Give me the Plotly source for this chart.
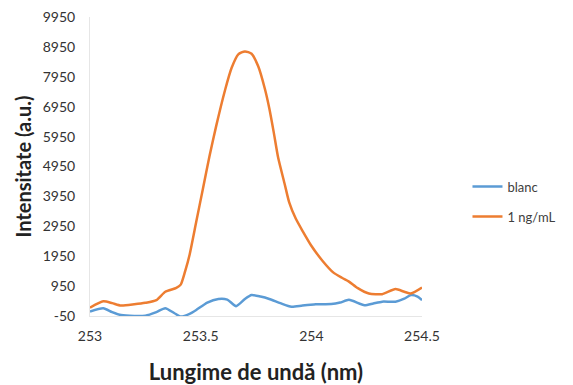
import plotly.graph_objects as go

x_orange = [253.00, 253.06, 253.10, 253.14, 253.20, 253.25, 253.30, 253.34, 253.39, 253.41,
            253.43, 253.45, 253.48, 253.51, 253.54, 253.57, 253.61, 253.64, 253.67, 253.70,
            253.73, 253.76, 253.79, 253.81, 253.83, 253.85, 253.88, 253.90, 253.93, 253.96,
            254.00, 254.05, 254.10, 254.14, 254.17, 254.21, 254.26, 254.32, 254.38, 254.42,
            254.45, 254.50]
y_orange = [230, 440, 380, 300, 340, 390, 480, 760, 890, 1000,
            1450, 2000, 3100, 4200, 5300, 6300, 7500, 8250, 8700, 8800,
            8720, 8300, 7550, 6900, 6100, 5250, 4350, 3750, 3200, 2800,
            2300, 1800, 1400, 1220, 1100, 880, 700, 680, 850, 760,
            700, 900]

x_blue = [253.00, 253.06, 253.10, 253.14, 253.20, 253.25, 253.30, 253.34, 253.38, 253.41,
          253.45, 253.48, 253.53, 253.58, 253.62, 253.66, 253.70, 253.73, 253.77, 253.81,
          253.86, 253.91, 253.96, 254.02, 254.09, 254.13, 254.17, 254.24, 254.28, 254.32,
          254.38, 254.42, 254.45, 254.48, 254.50]
y_blue = [100, 210, 80, -20, -50, -40, 80, 210, 50, -70,
          20, 150, 400, 520, 500, 280, 520, 650, 600, 520,
          380, 260, 300, 340, 350, 400, 490, 310, 370, 430,
          430, 530, 650, 600, 480]

y_ticks = [-50, 950, 1950, 2950, 3950, 4950, 5950, 6950, 7950, 8950, 9950]
y_ticklabels = [str(v) for v in y_ticks]
x_ticks = [253, 253.5, 254, 254.5]
x_ticklabels = ["253", "253.5", "254", "254.5"]

FONT = "Lato, 'Open Sans', sans-serif"

fig = go.Figure()
fig.add_trace(go.Scatter(x=x_blue, y=y_blue, mode="lines", name="blanc",
                         legendgroup="a",
                         line=dict(color="#5B9BD5", width=2.5, shape="spline", smoothing=0.6)))
fig.add_trace(go.Scatter(x=x_orange, y=y_orange, mode="lines", name="1 ng/mL",
                         legendgroup="b",
                         line=dict(color="#ED7D31", width=2.5, shape="spline", smoothing=0.6)))

fig.update_layout(
    width=573, height=385,
    margin=dict(l=90, r=148, t=17, b=69),
    paper_bgcolor="white", plot_bgcolor="white",
    font=dict(family=FONT, size=12, color="#333333"),
    showlegend=True,
    legend=dict(x=1.137, y=0.483, xanchor="left", yanchor="top",
                tracegroupgap=10,
                font=dict(size=13, color="#404040"), bgcolor="rgba(0,0,0,0)"),
    xaxis=dict(range=[253, 254.5], tickvals=x_ticks, ticktext=x_ticklabels,
               showgrid=False, zeroline=False, showline=True, linecolor="#e6e6e6",
               linewidth=1, ticks="", ticklabelstandoff=7, automargin=False,
               tickfont=dict(size=14, color="#333333"),
               title=dict(text="<b>Lungime de undă (nm)</b>", standoff=22,
                          font=dict(size=22, color="#222222"))),
    yaxis=dict(range=[-50, 9950], tickvals=y_ticks, ticktext=y_ticklabels,
               showgrid=False, zeroline=False, showline=True, linecolor="#e6e6e6",
               linewidth=1, ticks="", ticklabelstandoff=11, automargin=False,
               tickfont=dict(size=14, color="#333333"),
               title=dict(text="<b>Intensitate (a.u.)</b>", standoff=5,
                          font=dict(size=20, color="#222222"))),
)

fig.write_html("out.html")
